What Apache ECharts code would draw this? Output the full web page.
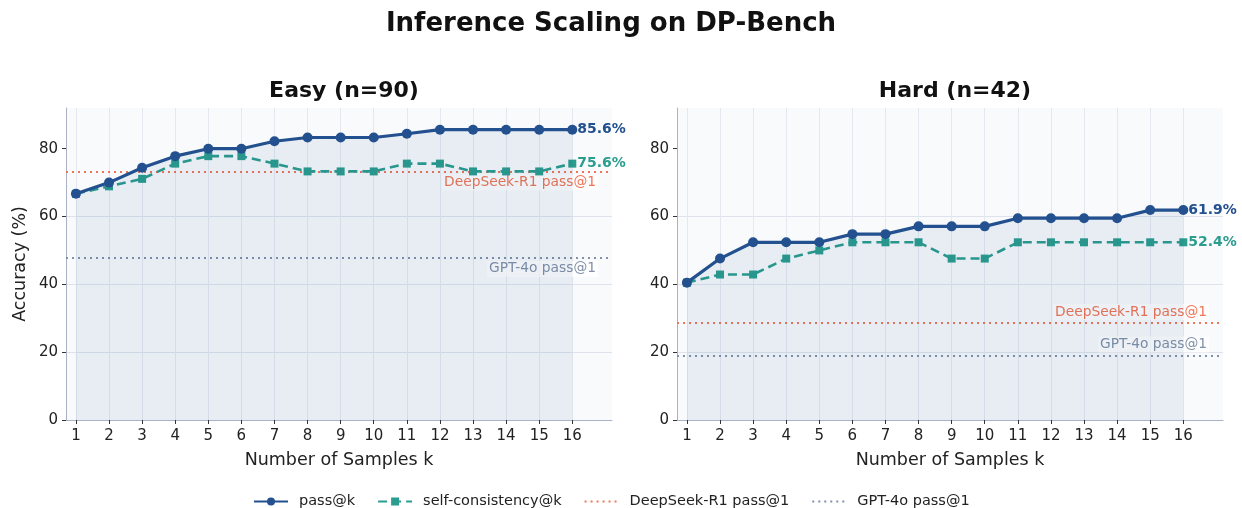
<!DOCTYPE html>
<html>
<head>
<meta charset="utf-8">
<script src="https://cdn.jsdelivr.net/npm/echarts@6/dist/echarts.min.js"></script>
<style>
    html, body { margin: 0; padding: 0; background: #fff; }
    #chart { width: 1242px; height: 508px; }
</style>
</head>
<body>
<div id="chart"></div>
<script>
    // number of samples k
    const ks = [1, 2, 3, 4, 5, 6, 7, 8, 9, 10, 11, 12, 13, 14, 15, 16];
    const yTicks = [0, 20, 40, 60, 80];

    // Easy (n=90)
    const easyPass = [66.7, 70.0, 74.4, 77.8, 80.0, 80.0, 82.2, 83.3, 83.3, 83.3, 84.4, 85.6, 85.6, 85.6, 85.6, 85.6];
    const easySC = [66.7, 68.9, 71.1, 75.6, 77.8, 77.8, 75.6, 73.3, 73.3, 73.3, 75.6, 75.6, 73.3, 73.3, 73.3, 75.6];
    const easyR1 = 73.3;
    const easyGpt = 47.8;

    // Hard (n=42)
    const hardPass = [40.5, 47.6, 52.4, 52.4, 52.4, 54.8, 54.8, 57.1, 57.1, 57.1, 59.5, 59.5, 59.5, 59.5, 61.9, 61.9];
    const hardSC = [40.5, 42.9, 42.9, 47.6, 50.0, 52.4, 52.4, 52.4, 47.6, 47.6, 52.4, 52.4, 52.4, 52.4, 52.4, 52.4];
    const hardR1 = 28.6;
    const hardGpt = 19.0;

    const C_PASS = '#23508e';
    const C_SC = '#2a9d8f';
    const C_R1 = '#f07556';
    const C_GPT = '#8191aa';
    const FONT = "'DejaVu Sans', sans-serif";

    const chart = echarts.init(document.getElementById('chart'));

    function xAxisOf(i) {
        return {
            type: 'value', gridIndex: i, min: 0.7, max: 17.2,
            name: 'Number of Samples k', nameLocation: 'middle', nameGap: 31,
            nameTextStyle: { fontFamily: FONT, fontSize: 17.5, color: '#222' },
            axisLine: { lineStyle: { color: '#aab3c5', width: 1 } },
            axisTick: { customValues: ks, length: 4, lineStyle: { color: '#333' } },
            axisLabel: { customValues: ks, fontFamily: FONT, fontSize: 15, color: '#222', margin: 9 },
            splitLine: { show: false }
        };
    }

    function yAxisOf(i) {
        return {
            type: 'value', gridIndex: i, min: 0, max: 92, interval: 20,
            name: i === 0 ? 'Accuracy (%)' : '', nameLocation: 'middle', nameGap: 37,
            nameTextStyle: { fontFamily: FONT, fontSize: 17.5, color: '#222' },
            axisLine: { show: true, lineStyle: { color: '#aab3c5', width: 1 } },
            axisTick: { show: true, customValues: yTicks, length: 4, lineStyle: { color: '#333' } },
            axisLabel: { customValues: yTicks, fontFamily: FONT, fontSize: 15, color: '#222', margin: 8 },
            splitLine: { show: true, showMaxLine: false, lineStyle: { color: '#dde2ec', width: 1 } }
        };
    }

    function refSeries(i, name, value, color, pos) {
        return {
            name: name, type: 'line', xAxisIndex: i, yAxisIndex: i, data: [],
            symbol: 'none', z: 2,
            lineStyle: { color: color, width: 2, type: [2, 4] },
            itemStyle: { color: color },
            markLine: {
                silent: true, symbol: 'none', z: 2,
                lineStyle: { color: color, width: 2, type: [2, 4] },
                label: {
                    show: true, position: pos, formatter: name, distance: [14, 3],
                    fontFamily: FONT, fontSize: 13.8, color: color,
                    backgroundColor: 'rgba(255,255,255,0.75)', padding: [1, 2]
                },
                data: [{ yAxis: value }]
            }
        };
    }

    function panelSeries(i, pass, sc, r1, gpt, labelPos) {
        return [
            {
                // vertical grid lines at each k
                type: 'line', xAxisIndex: i, yAxisIndex: i, data: [], z: 1,
                markLine: {
                    silent: true, symbol: 'none', z: 1, label: { show: false },
                    lineStyle: { color: '#e4e8ef', width: 1, type: 'solid' },
                    data: ks.map(k => ({ xAxis: k }))
                }
            },
            {
                name: 'pass@k', type: 'line', xAxisIndex: i, yAxisIndex: i,
                data: ks.map((k, j) => [k, pass[j]]),
                symbol: 'circle', symbolSize: 10, z: 4,
                lineStyle: { color: C_PASS, width: 3.2 },
                itemStyle: { color: C_PASS },
                areaStyle: { color: 'rgba(9,70,132,0.1)', origin: 'start' },
                endLabel: {
                    show: true, distance: 5, formatter: p => p.value[1].toFixed(1) + '%',
                    fontFamily: FONT, fontSize: 14, fontWeight: 'bold', color: C_PASS
                }
            },
            {
                name: 'self-consistency@k', type: 'line', xAxisIndex: i, yAxisIndex: i,
                data: ks.map((k, j) => [k, sc[j]]),
                symbol: 'rect', symbolSize: 8, z: 3,
                lineStyle: { color: C_SC, width: 2.6, type: [9, 5] },
                itemStyle: { color: C_SC },
                endLabel: {
                    show: true, distance: 5, formatter: p => p.value[1].toFixed(1) + '%',
                    fontFamily: FONT, fontSize: 14, fontWeight: 'bold', color: C_SC
                }
            },
            refSeries(i, 'DeepSeek-R1 pass@1', r1, C_R1, labelPos[0]),
            refSeries(i, 'GPT-4o pass@1', gpt, C_GPT, labelPos[1])
        ];
    }

    const option = {
        animation: false,
        backgroundColor: '#fff',
        title: [
            { text: 'Inference Scaling on DP-Bench', left: 606, top: 6, textAlign: 'center',
              textStyle: { fontFamily: FONT, fontSize: 26, fontWeight: 'bold', color: '#111' } },
            { text: 'Easy (n=90)', left: 339, top: 75, textAlign: 'center',
              textStyle: { fontFamily: FONT, fontSize: 22, fontWeight: 'bold', color: '#111' } },
            { text: 'Hard (n=42)', left: 950, top: 75, textAlign: 'center',
              textStyle: { fontFamily: FONT, fontSize: 22, fontWeight: 'bold', color: '#111' } }
        ],
        legend: {
            top: 489, left: 248, itemGap: 22, itemWidth: 34, itemHeight: 10,
            textStyle: { fontFamily: FONT, fontSize: 14.5, color: '#222', padding: [0, 0, 0, 6] },
            data: [
                'pass@k',
                'self-consistency@k',
                { name: 'DeepSeek-R1 pass@1', itemStyle: { opacity: 0 } },
                { name: 'GPT-4o pass@1', itemStyle: { opacity: 0 } }
            ]
        },
        grid: [
            { left: 66, top: 108, width: 546, height: 312, show: true, backgroundColor: '#f9fafc', borderWidth: 0 },
            { left: 677, top: 108, width: 546, height: 312, show: true, backgroundColor: '#f9fafc', borderWidth: 0 }
        ],
        xAxis: [xAxisOf(0), xAxisOf(1)],
        yAxis: [yAxisOf(0), yAxisOf(1)],
        series: [].concat(
            panelSeries(0, easyPass, easySC, easyR1, easyGpt, ['insideEndBottom', 'insideEndBottom']),
            panelSeries(1, hardPass, hardSC, hardR1, hardGpt, ['insideEndTop', 'insideEndTop'])
        )
    };

    chart.setOption(option);
</script>
</body>
</html>
